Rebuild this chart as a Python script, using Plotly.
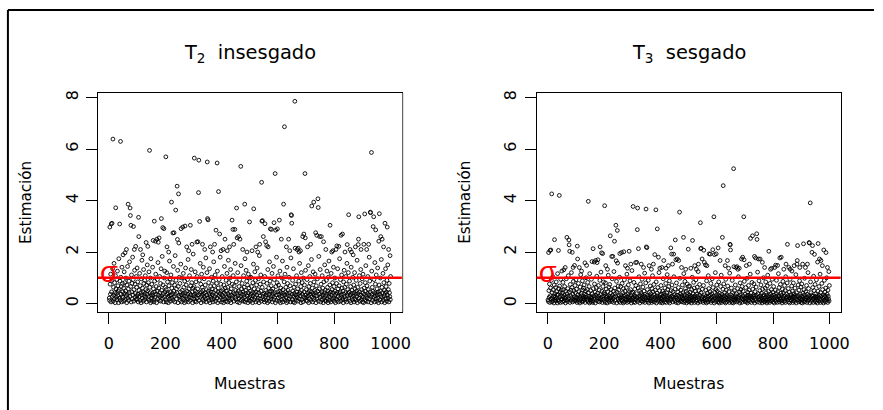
import plotly.graph_objects as go

# ---------------- data ----------------
muestras = list(range(1, 1001))

T2 = [
0.21,0.12,2.97,0.75,0.36,1.14,0.06,3.09,0.45,0.90,
3.12,0.27,1.35,6.39,0.09,0.63,0.33,1.56,0.18,0.81,
0.42,0.03,1.08,3.72,0.57,0.24,0.39,0.93,0.15,1.26,
0.30,0.69,0.48,0.03,1.74,0.54,0.21,3.09,0.87,0.12,
6.30,1.02,0.36,0.66,0.06,1.41,0.27,0.78,0.45,1.89,
0.24,0.60,0.09,1.23,0.39,0.81,1.97,0.15,0.48,0.99,
0.30,2.10,0.03,0.72,0.36,1.44,0.21,3.86,0.57,0.12,
0.87,0.42,1.62,0.27,3.71,3.42,0.66,3.04,0.06,1.11,
0.45,0.78,0.18,1.80,0.33,0.93,2.99,0.09,0.54,2.10,
1.29,0.24,0.75,0.39,2.22,0.15,1.05,0.63,0.30,1.38,
0.18,0.84,0.36,0.06,3.35,2.60,0.51,0.27,1.17,0.12,
0.69,2.10,0.42,0.03,0.96,0.33,1.68,0.21,0.60,1.89,
0.45,0.09,1.32,0.78,0.30,0.15,0.90,0.39,1.08,0.24,
0.54,2.37,0.06,0.72,0.36,1.50,0.48,2.22,0.18,0.81,
0.27,1.23,0.12,5.95,0.63,0.42,0.99,0.03,1.74,0.33,
0.21,0.75,0.09,0.39,1.41,0.30,2.45,0.57,0.15,0.06,
3.20,0.87,0.45,0.24,2.42,1.14,0.36,0.66,0.03,2.50,
0.48,0.93,0.18,1.59,2.38,0.33,0.60,2.55,0.12,1.05,
0.42,0.27,0.78,0.09,1.35,3.30,0.51,0.30,1.83,0.21,
2.95,0.72,0.39,0.06,2.91,0.99,0.24,1.26,0.45,0.63,
0.15,5.70,0.54,0.06,1.20,2.20,0.36,0.84,0.24,0.42,
0.03,2.00,0.69,0.30,1.65,0.18,0.96,0.45,0.09,1.11,
0.33,3.94,0.60,0.21,0.81,0.39,2.74,0.12,1.44,0.48,
2.75,0.27,0.72,0.06,1.86,0.36,3.63,0.90,0.18,0.57,
0.42,4.56,2.49,1.29,0.03,0.66,4.26,2.35,0.30,1.02,
0.24,0.78,0.12,0.45,1.53,2.91,0.33,0.06,0.99,0.51,
0.21,2.97,0.39,1.17,0.15,0.63,0.30,0.03,0.87,3.01,
0.42,1.38,0.09,0.72,0.27,2.20,0.48,0.18,0.93,0.36,
1.71,0.06,2.05,0.57,0.24,1.08,0.39,0.12,3.04,0.69,
0.33,1.32,0.21,0.81,2.30,0.45,0.03,0.60,1.92,0.30,
0.18,0.66,5.65,0.36,0.09,1.23,0.48,0.27,0.84,0.06,
0.42,2.39,1.05,0.21,0.57,2.40,0.33,4.31,5.57,0.12,
0.90,3.19,0.39,1.56,0.24,0.75,0.03,0.45,1.14,0.30,
0.63,2.30,0.15,0.51,1.41,0.36,0.09,0.96,0.27,2.10,
0.42,0.72,0.18,1.77,0.06,0.54,0.33,1.20,5.50,3.30,
0.21,3.25,0.48,0.81,0.12,0.39,1.35,0.30,0.03,2.20,
0.66,0.24,0.45,1.02,0.15,0.57,0.33,2.00,0.06,0.87,
0.42,1.62,0.18,0.69,2.30,0.27,1.11,0.09,0.51,2.85,
0.36,0.78,0.21,5.46,1.26,0.03,0.45,0.60,4.35,0.30,
0.93,0.12,2.70,0.39,1.80,0.24,0.75,2.05,0.48,0.06,
0.33,1.05,0.15,0.54,2.10,0.27,0.03,0.72,0.42,1.44,
0.18,2.50,0.60,0.36,0.09,0.90,0.48,0.24,1.17,2.05,
0.06,0.63,0.39,1.68,0.21,0.81,0.30,2.20,0.12,0.99,
0.45,1.32,0.03,0.57,0.33,0.18,3.24,0.75,0.27,2.88,
1.08,0.42,2.30,0.09,0.69,0.36,2.88,1.56,0.24,0.51,
0.15,0.84,3.71,0.39,2.55,0.06,1.20,0.30,0.48,2.60,
0.21,0.66,0.03,0.93,2.50,0.42,0.27,5.33,1.47,0.12,
0.57,0.36,0.78,0.18,2.10,0.45,0.09,1.08,0.33,0.63,
0.24,3.86,1.74,0.06,0.51,0.39,1.29,0.15,0.87,2.00,
0.30,0.72,0.03,0.42,1.14,0.21,0.60,0.12,3.17,0.99,
0.27,0.48,0.09,1.02,0.36,0.66,0.18,2.05,0.42,0.03,
0.81,0.30,1.53,3.68,0.15,0.57,0.39,1.23,0.24,0.90,
0.06,2.20,0.45,0.72,0.33,1.38,0.12,2.00,0.54,0.21,
0.96,0.42,0.03,1.86,2.30,0.30,0.75,0.18,1.11,0.48,
0.09,4.71,3.20,0.63,3.22,0.36,0.27,2.60,0.84,0.15,
0.39,0.06,1.05,3.10,0.24,2.40,0.51,0.33,0.12,2.25,
0.78,0.42,0.03,1.32,2.20,0.21,0.60,0.36,0.09,1.62,
0.45,0.87,2.90,0.27,0.18,0.69,2.88,0.48,1.17,0.06,
0.30,0.57,0.39,1.44,0.15,3.14,0.93,0.24,0.42,5.05,
0.03,2.85,0.66,0.33,1.80,0.12,0.81,2.90,0.45,1.08,
0.21,0.72,0.36,0.09,3.24,0.48,1.26,0.27,0.03,0.60,
0.42,2.50,0.15,0.99,0.30,1.65,0.06,0.54,0.39,3.86,
0.18,0.84,6.87,0.33,1.14,0.12,0.45,0.63,0.24,2.20,
0.03,1.41,0.39,0.78,0.09,0.51,0.30,2.50,1.02,0.18,
0.42,2.05,0.69,0.27,0.06,1.77,3.45,3.42,3.12,0.36,
0.15,0.90,0.48,0.06,1.35,0.27,0.63,0.39,0.03,7.86,
2.15,0.21,0.75,0.33,0.12,1.08,0.45,2.10,0.24,0.57,
0.09,2.15,0.36,0.87,2.00,0.18,1.56,0.42,0.30,2.05,
0.66,0.03,1.20,0.51,0.15,0.81,0.36,2.60,0.06,0.99,
0.27,2.70,0.45,0.72,0.21,5.05,2.55,1.29,0.33,0.12,
0.54,0.24,0.93,0.09,2.20,0.42,0.30,1.47,0.03,0.66,
0.48,0.18,1.05,0.36,0.78,2.30,0.12,0.45,1.71,3.79,
0.27,0.60,0.06,0.39,1.23,0.21,3.94,0.84,0.33,0.15,
0.51,1.14,0.42,2.75,0.03,0.69,0.30,2.65,0.18,0.96,
0.48,4.07,3.73,0.09,1.83,0.36,0.57,2.60,0.24,1.32,
0.39,0.06,0.75,2.60,0.27,0.45,1.08,0.15,0.60,0.33,
0.03,2.40,0.84,0.21,0.42,1.50,0.12,0.51,0.30,2.10,
0.09,0.90,0.36,1.26,0.18,0.63,0.48,0.03,1.02,0.27,
1.65,0.39,0.12,0.72,3.04,0.24,0.45,0.06,1.17,0.33,
2.00,0.54,0.15,0.81,2.05,0.42,1.41,0.21,0.66,0.09,
0.30,0.99,0.48,0.03,0.36,2.10,0.18,0.78,2.24,0.42,
0.12,1.35,0.57,0.27,0.06,2.22,0.69,0.39,1.74,0.21,
0.45,0.93,0.09,2.65,0.33,1.11,0.24,0.60,2.70,0.15,
0.48,0.03,0.84,0.36,1.29,0.27,0.63,2.00,0.12,0.42,
1.05,0.18,0.75,0.06,1.56,2.29,0.30,0.54,0.39,1.20,
3.45,0.21,0.45,0.87,0.09,2.10,0.33,0.66,0.03,1.41,
2.00,0.24,0.51,0.39,0.15,1.02,1.89,0.30,0.72,0.06,
0.42,1.20,0.18,0.57,2.20,0.36,0.12,0.90,0.48,0.27,
1.68,0.03,0.63,0.39,2.29,2.50,3.37,0.21,1.08,0.45,
0.09,0.78,0.33,1.32,2.10,0.15,0.54,0.27,0.96,0.06,
0.42,1.14,0.24,0.03,2.30,0.60,0.36,3.48,0.15,0.81,
0.48,1.47,0.09,0.30,2.10,0.69,0.21,0.39,1.05,0.06,
0.54,2.30,0.33,1.80,0.18,0.87,0.45,3.55,3.53,0.27,
0.03,5.87,1.26,0.36,0.63,0.12,0.48,2.99,0.24,3.37,
0.93,0.42,0.06,1.59,0.30,0.75,2.86,0.18,1.11,0.39,
0.09,0.57,0.33,1.38,0.21,0.45,0.03,2.42,0.72,3.49,
0.36,0.15,0.99,0.48,2.60,0.27,1.71,0.06,0.63,2.50,
0.42,0.24,1.17,0.12,2.20,0.81,0.30,0.51,0.03,3.12,
0.39,1.35,0.18,0.66,0.45,0.09,0.90,2.97,0.33,1.50,
0.21,0.54,2.10,0.06,0.78,0.42,0.27,1.86,0.15,1.05,
]

T3 = [
0.14,0.08,1.98,0.50,0.24,0.76,0.04,2.06,0.30,0.60,
2.08,0.18,0.90,4.26,0.06,0.42,0.22,1.04,0.12,0.54,
0.28,0.02,0.72,2.48,0.38,0.16,0.26,0.62,0.10,0.84,
0.20,0.46,0.32,0.02,1.16,0.36,0.14,2.06,0.58,0.08,
4.20,0.68,0.24,0.44,0.04,0.94,0.18,0.52,0.30,1.26,
0.16,0.40,0.06,0.82,0.26,0.54,1.31,0.10,0.32,0.66,
0.20,1.40,0.02,0.48,0.24,0.96,0.14,2.57,0.38,0.08,
0.58,0.28,1.08,0.18,2.47,2.28,0.44,2.03,0.04,0.74,
0.30,0.52,0.12,1.20,0.22,0.62,1.99,0.06,0.36,1.40,
0.86,0.16,0.50,0.26,1.48,0.10,0.70,0.42,0.20,0.92,
0.12,0.56,0.24,0.04,2.23,1.73,0.34,0.18,0.78,0.08,
0.46,1.40,0.28,0.02,0.64,0.22,1.12,0.14,0.40,1.26,
0.30,0.06,0.88,0.52,0.20,0.10,0.60,0.26,0.72,0.16,
0.36,1.58,0.04,0.48,0.24,1.00,0.32,1.48,0.12,0.54,
0.18,0.82,0.08,3.97,0.42,0.28,0.66,0.02,1.16,0.22,
0.14,0.50,0.06,0.26,0.94,0.20,1.63,0.38,0.10,0.04,
2.13,0.58,0.30,0.16,1.61,0.76,0.24,0.44,0.02,1.67,
0.32,0.62,0.12,1.06,1.59,0.22,0.40,1.70,0.08,0.70,
0.28,0.18,0.52,0.06,0.90,2.20,0.34,0.20,1.22,0.14,
1.97,0.48,0.26,0.04,1.94,0.66,0.16,0.84,0.30,0.42,
0.10,3.80,0.36,0.04,0.80,1.47,0.24,0.56,0.16,0.28,
0.02,1.33,0.46,0.20,1.10,0.12,0.64,0.30,0.06,0.74,
0.22,2.63,0.40,0.14,0.54,0.26,1.83,0.08,0.96,0.32,
1.83,0.18,0.48,0.04,1.24,0.24,2.42,0.60,0.12,0.38,
0.28,3.04,1.66,0.86,0.02,0.44,2.84,1.57,0.20,0.68,
0.16,0.52,0.08,0.30,1.02,1.94,0.22,0.04,0.66,0.34,
0.14,1.98,0.26,0.78,0.10,0.42,0.20,0.02,0.58,2.01,
0.28,0.92,0.06,0.48,0.18,1.47,0.32,0.12,0.62,0.24,
1.14,0.04,1.37,0.38,0.16,0.72,0.26,0.08,2.03,0.46,
0.22,0.88,0.14,0.54,1.53,0.30,0.02,0.40,1.28,0.20,
0.12,0.44,3.77,0.24,0.06,0.82,0.32,0.18,0.56,0.04,
0.28,1.59,0.70,0.14,0.38,1.60,0.22,2.87,3.71,0.08,
0.60,2.13,0.26,1.04,0.16,0.50,0.02,0.30,0.76,0.20,
0.42,1.53,0.10,0.34,0.94,0.24,0.06,0.64,0.18,1.40,
0.28,0.48,0.12,1.18,0.04,0.36,0.22,0.80,3.67,2.20,
0.14,2.17,0.32,0.54,0.08,0.26,0.90,0.20,0.02,1.47,
0.44,0.16,0.30,0.68,0.10,0.38,0.22,1.33,0.04,0.58,
0.28,1.08,0.12,0.46,1.53,0.18,0.74,0.06,0.34,1.90,
0.24,0.52,0.14,3.64,0.84,0.02,0.30,0.40,2.90,0.20,
0.62,0.08,1.80,0.26,1.20,0.16,0.50,1.37,0.32,0.04,
0.22,0.70,0.10,0.36,1.40,0.18,0.02,0.48,0.28,0.96,
0.12,1.67,0.40,0.24,0.06,0.60,0.32,0.16,0.78,1.37,
0.04,0.42,0.26,1.12,0.14,0.54,0.20,1.47,0.08,0.66,
0.30,0.88,0.02,0.38,0.22,0.12,2.16,0.50,0.18,1.92,
0.72,0.28,1.53,0.06,0.46,0.24,1.92,1.04,0.16,0.34,
0.10,0.56,2.47,0.26,1.70,0.04,0.80,0.20,0.32,1.73,
0.14,0.44,0.02,0.62,1.67,0.28,0.18,3.55,0.98,0.08,
0.38,0.24,0.52,0.12,1.40,0.30,0.06,0.72,0.22,0.42,
0.16,2.57,1.16,0.04,0.34,0.26,0.86,0.10,0.58,1.33,
0.20,0.48,0.02,0.28,0.76,0.14,0.40,0.08,2.11,0.66,
0.18,0.32,0.06,0.68,0.24,0.44,0.12,1.37,0.28,0.02,
0.54,0.20,1.02,2.45,0.10,0.38,0.26,0.82,0.16,0.60,
0.04,1.47,0.30,0.48,0.22,0.92,0.08,1.33,0.36,0.14,
0.64,0.28,0.02,1.24,1.53,0.20,0.50,0.12,0.74,0.32,
0.06,3.14,2.13,0.42,2.15,0.24,0.18,1.73,0.56,0.10,
0.26,0.04,0.70,2.07,0.16,1.60,0.34,0.22,0.08,1.50,
0.52,0.28,0.02,0.88,1.47,0.14,0.40,0.24,0.06,1.08,
0.30,0.58,1.93,0.18,0.12,0.46,1.92,0.32,0.78,0.04,
0.20,0.38,0.26,0.96,0.10,2.09,0.62,0.16,0.28,3.37,
0.02,1.90,0.44,0.22,1.20,0.08,0.54,1.93,0.30,0.72,
0.14,0.48,0.24,0.06,2.16,0.32,0.84,0.18,0.02,0.40,
0.28,1.67,0.10,0.66,0.20,1.10,0.04,0.36,0.26,2.57,
0.12,0.56,4.58,0.22,0.76,0.08,0.30,0.42,0.16,1.47,
0.02,0.94,0.26,0.52,0.06,0.34,0.20,1.67,0.68,0.12,
0.28,1.37,0.46,0.18,0.04,1.18,2.30,2.28,2.08,0.24,
0.10,0.60,0.32,0.04,0.90,0.18,0.42,0.26,0.02,5.24,
1.43,0.14,0.50,0.22,0.08,0.72,0.30,1.40,0.16,0.38,
0.06,1.43,0.24,0.58,1.33,0.12,1.04,0.28,0.20,1.37,
0.44,0.02,0.80,0.34,0.10,0.54,0.24,1.73,0.04,0.66,
0.18,1.80,0.30,0.48,0.14,3.37,1.70,0.86,0.22,0.08,
0.36,0.16,0.62,0.06,1.47,0.28,0.20,0.98,0.02,0.44,
0.32,0.12,0.70,0.24,0.52,1.53,0.08,0.30,1.14,2.53,
0.18,0.40,0.04,0.26,0.82,0.14,2.63,0.56,0.22,0.10,
0.34,0.76,0.28,1.83,0.02,0.46,0.20,1.77,0.12,0.64,
0.32,2.71,2.49,0.06,1.22,0.24,0.38,1.73,0.16,0.88,
0.26,0.04,0.50,1.73,0.18,0.30,0.72,0.10,0.40,0.22,
0.02,1.60,0.56,0.14,0.28,1.00,0.08,0.34,0.20,1.40,
0.06,0.60,0.24,0.84,0.12,0.42,0.32,0.02,0.68,0.18,
1.10,0.26,0.08,0.48,2.03,0.16,0.30,0.04,0.78,0.22,
1.33,0.36,0.10,0.54,1.37,0.28,0.94,0.14,0.44,0.06,
0.20,0.66,0.32,0.02,0.24,1.40,0.12,0.52,1.49,0.28,
0.08,0.90,0.38,0.18,0.04,1.48,0.46,0.26,1.16,0.14,
0.30,0.62,0.06,1.77,0.22,0.74,0.16,0.40,1.80,0.10,
0.32,0.02,0.56,0.24,0.86,0.18,0.42,1.33,0.08,0.28,
0.70,0.12,0.50,0.04,1.04,1.53,0.20,0.36,0.26,0.80,
2.30,0.14,0.30,0.58,0.06,1.40,0.22,0.44,0.02,0.94,
1.33,0.16,0.34,0.26,0.10,0.68,1.26,0.20,0.48,0.04,
0.28,0.80,0.12,0.38,1.47,0.24,0.08,0.60,0.32,0.18,
1.12,0.02,0.42,0.26,1.53,1.67,2.25,0.14,0.72,0.30,
0.06,0.52,0.22,0.88,1.40,0.10,0.36,0.18,0.64,0.04,
0.28,0.76,0.16,0.02,1.53,0.40,0.24,2.32,0.10,0.54,
0.32,0.98,0.06,0.20,1.40,0.46,0.14,0.26,0.70,0.04,
0.36,1.53,0.22,1.20,0.12,0.58,0.30,2.37,2.35,0.18,
0.02,3.91,0.84,0.24,0.42,0.08,0.32,1.99,0.16,2.25,
0.62,0.28,0.04,1.06,0.20,0.50,1.91,0.12,0.74,0.26,
0.06,0.38,0.22,0.92,0.14,0.30,0.02,1.61,0.48,2.33,
0.24,0.10,0.66,0.32,1.73,0.18,1.14,0.04,0.42,1.67,
0.28,0.16,0.78,0.08,1.47,0.54,0.20,0.34,0.02,2.08,
0.26,0.90,0.12,0.44,0.30,0.06,0.60,1.98,0.22,1.00,
0.14,0.36,1.40,0.04,0.52,0.28,0.18,1.24,0.10,0.70,
]

valor_real = 1.0          # red reference line
sigma_x = [0]             # red sigma label position
sigma_y = [1.12]
x_ticks = [0, 200, 400, 600, 800, 1000]
y_ticks = [0, 2, 4, 6, 8]
titulos = ["T<sub>2</sub>\u00a0\u00a0insesgado", "T<sub>3</sub>\u00a0\u00a0sesgado"]
x_label = "Muestras"
y_label = "Estimación"

assert len(T2) == 1000 and len(T3) == 1000

# ---------------- figure ----------------
W, H = 883, 410
FONT = "DejaVu Sans, Liberation Sans, Arial, sans-serif"
SIGMA_FONT = "Liberation Sans, Arial, sans-serif"

def px(x):
    return x / W

def py(y):
    return 1 - y / H

panels = [
    dict(vals=T2, left=99.0, right=406.0, suffix="", title=titulos[0]),
    dict(vals=T3, left=542.3, right=849.3, suffix="2", title=titulos[1]),
]
box_top, box_bottom = 90.7, 311.0

fig = go.Figure()
layout_axes = {}
annotations = []
shapes = []

for p in panels:
    s = p["suffix"]
    xa, ya = "x" + s, "y" + s
    fig.add_trace(go.Scatter(
        x=muestras, y=p["vals"], mode="markers",
        marker=dict(symbol="circle-open", size=3.8, color="black",
                    line=dict(width=0.9, color="black")),
        xaxis=xa, yaxis=ya, showlegend=False, hoverinfo="skip"))
    fig.add_trace(go.Scatter(
        x=sigma_x, y=sigma_y, mode="text", text=["σ"],
        textposition="middle center",
        textfont=dict(size=29, color="#FF0000", family=SIGMA_FONT),
        xaxis=xa, yaxis=ya, showlegend=False, hoverinfo="skip",
        cliponaxis=False))

    common = dict(showline=True, linecolor="black", linewidth=1, mirror=True,
                  ticks="outside", ticklen=11, tickwidth=1, tickcolor="black",
                  showgrid=False, zeroline=False,
                  tickfont=dict(family=FONT, size=16, color="black"))
    layout_axes["xaxis" + s] = dict(
        domain=[px(p["left"]), px(p["right"])], range=[-38.96, 1039.96],
        tickmode="array", tickvals=x_ticks, ticktext=[str(v) for v in x_ticks],
        anchor=ya, ticklabelstandoff=6, **common)
    layout_axes["yaxis" + s] = dict(
        domain=[py(box_bottom), py(box_top)], range=[-0.32, 8.18],
        tickmode="array", tickvals=y_ticks, ticktext=[str(v) for v in y_ticks],
        tickangle=-90, anchor=xa, ticklabelstandoff=2, **common)

    shapes.append(dict(type="line", xref=xa + " domain", x0=0, x1=1,
                       yref=ya, y0=valor_real, y1=valor_real,
                       line=dict(color="#FF0000", width=2.6), layer="above"))

    cx = (p["left"] + p["right"]) / 2
    annotations.append(dict(text=p["title"], x=px(cx), y=py(50.5),
                            xref="paper", yref="paper", showarrow=False,
                            xanchor="center", yanchor="middle",
                            font=dict(family=FONT, size=19.4, color="black")))
    annotations.append(dict(text=x_label, x=px(cx), y=py(384),
                            xref="paper", yref="paper", showarrow=False,
                            xanchor="center", yanchor="middle",
                            font=dict(family=FONT, size=15.6, color="black")))
    annotations.append(dict(text=y_label, x=px(p["left"] - 72), y=py(200.8),
                            xref="paper", yref="paper", showarrow=False,
                            xanchor="center", yanchor="middle", textangle=-90,
                            font=dict(family=FONT, size=15.2, color="black")))

# grey rendering edge at the right of the first box
shapes.append(dict(type="line", xref="paper", yref="paper",
                   x0=px(407), x1=px(407), y0=py(box_bottom), y1=py(box_top),
                   line=dict(color="#9a9a9a", width=1)))
# outer frame (top and left edges)
shapes.append(dict(type="line", xref="paper", yref="paper",
                   x0=px(8), x1=1, y0=py(7), y1=py(7),
                   line=dict(color="black", width=2)))
shapes.append(dict(type="line", xref="paper", yref="paper",
                   x0=px(8), x1=px(8), y0=py(7), y1=0,
                   line=dict(color="black", width=2)))

fig.update_layout(
    width=W, height=H, margin=dict(l=0, r=0, t=0, b=0),
    paper_bgcolor="white", plot_bgcolor="white",
    font=dict(family=FONT, color="black"),
    showlegend=False, shapes=shapes, annotations=annotations,
    hovermode=False,
    **layout_axes)

fig.write_html("out.html",
               config={"displayModeBar": False, "staticPlot": True},
               post_script="document.body.style.margin='0px';"
                           "document.body.style.overflow='hidden';")
